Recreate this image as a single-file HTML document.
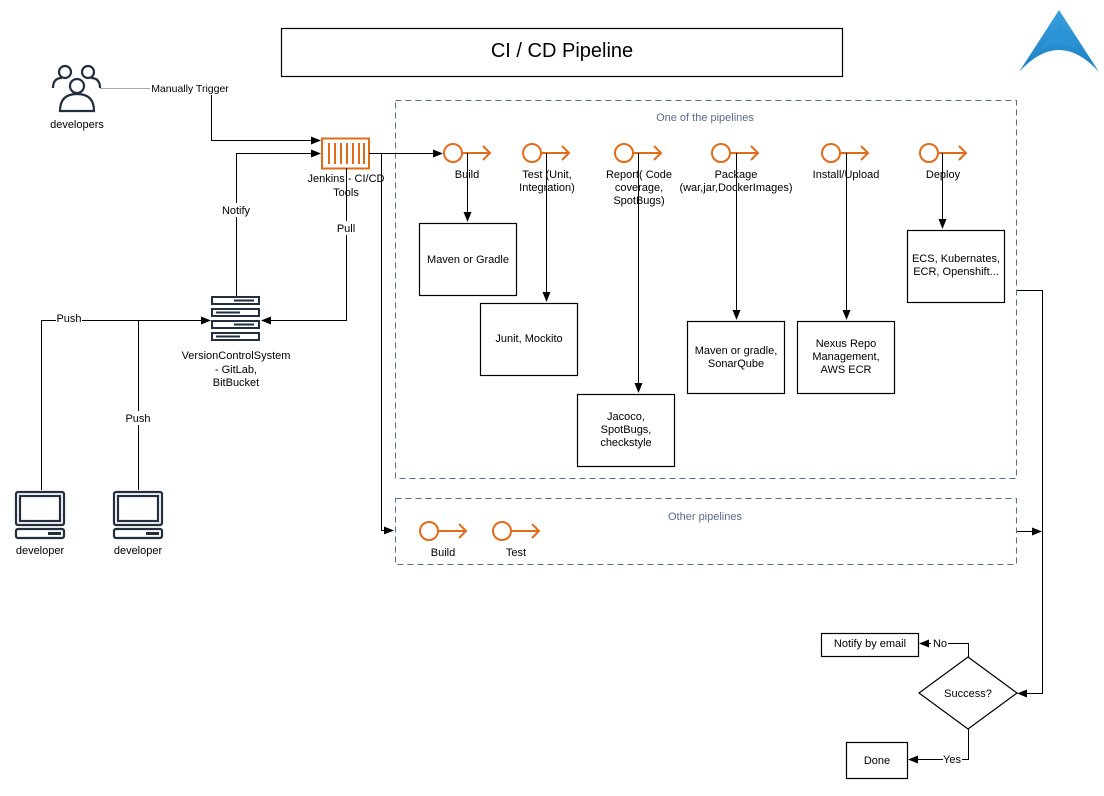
<!DOCTYPE html>
<html><head><meta charset="utf-8"><style>
html,body{margin:0;padding:0;background:#fff;}
svg{display:block;font-family:"Liberation Sans",sans-serif;}
</style></head><body>
<svg width="1104" height="796" viewBox="0 0 1104 796" xmlns="http://www.w3.org/2000/svg">
<defs>
<marker id="a" markerWidth="10" markerHeight="8" refX="9" refY="4" orient="auto" markerUnits="userSpaceOnUse"><path d="M0,0 L10,4 L0,8 Z" fill="#000"/></marker>
<linearGradient id="g" x1="0" y1="0" x2="0" y2="1"><stop offset="0" stop-color="#3aa0dc"/><stop offset="1" stop-color="#1b7fc4"/></linearGradient>
</defs>
<rect width="1104" height="796" fill="#fff"/>
<!-- title -->
<rect x="281.5" y="28.5" width="561" height="48" fill="#fff" stroke="#000" stroke-width="1.2"/>
<text x="562" y="57" font-size="20" text-anchor="middle">CI / CD Pipeline</text>
<!-- logo -->
<path d="M1059,10 L1099,72 Q1059,28 1019,72 Z" fill="url(#g)"/>
<path d="M1059,22 L1078,50 Q1059,38 1040,50 Z" fill="#2b94d6"/>
<!-- dashed boxes -->
<rect x="395.5" y="100.5" width="621" height="378" fill="none" stroke="#5a6e8f" stroke-dasharray="6,4"/>
<text x="705" y="121" font-size="11" fill="#5b6b8c" text-anchor="middle">One of the pipelines</text>
<rect x="395.5" y="498.5" width="621" height="66" fill="none" stroke="#5a6e8f" stroke-dasharray="6,4"/>
<text x="705" y="520" font-size="11" fill="#5b6b8c" text-anchor="middle">Other pipelines</text>
<!-- developers icon -->
<g fill="none" stroke="#232f3e" stroke-width="2.2">
<circle cx="65" cy="72" r="6"/><circle cx="88" cy="72" r="6"/>
<path d="M53,88 Q53,78 62,78"/><path d="M100,88 Q100,78 91,78"/>
<circle cx="77" cy="86" r="7"/>
<path d="M60,111 Q60,94 77,94 Q94,94 94,111 Z" fill="#fff"/>
</g>
<text x="77" y="128" font-size="11" text-anchor="middle">developers</text>
<!-- Manually trigger -->
<line x1="100" y1="88.5" x2="150" y2="88.5" stroke="#aaa"/>
<text x="190" y="92" font-size="10.5" text-anchor="middle">Manually Trigger</text>
<polyline points="211.5,95 211.5,140.5 320,140.5" fill="none" stroke="#000" marker-end="url(#a)"/>
<!-- Jenkins -->
<rect x="322" y="138.5" width="47" height="30" fill="#fff" stroke="#e06c1a" stroke-width="2"/>
<g stroke="#e06c1a" stroke-width="2"><line x1="329" y1="143" x2="329" y2="164"/><line x1="335" y1="143" x2="335" y2="164"/><line x1="341" y1="143" x2="341" y2="164"/><line x1="347" y1="143" x2="347" y2="164"/><line x1="353" y1="143" x2="353" y2="164"/><line x1="359" y1="143" x2="359" y2="164"/><line x1="364" y1="143" x2="364" y2="164"/></g>
<!-- Notify -->
<polyline points="236.5,297 236.5,153.5 320,153.5" fill="none" stroke="#000" marker-end="url(#a)"/>
<rect x="218" y="203" width="36" height="14" fill="#fff"/>
<text x="236" y="214" font-size="11" text-anchor="middle">Notify</text>
<!-- Pull -->
<polyline points="346.5,168 346.5,320.5 262,320.5" fill="none" stroke="#000" marker-end="url(#a)"/>
<rect x="330" y="221" width="32" height="14" fill="#fff"/>
<text x="346" y="232" font-size="11" text-anchor="middle">Pull</text>
<text x="346" y="182" font-size="11" text-anchor="middle">Jenkins - CI/CD</text>
<text x="346" y="196" font-size="11" text-anchor="middle">Tools</text>
<!-- VCS -->
<g fill="#fff" stroke="#232f3e" stroke-width="2">
<rect x="212" y="297" width="47" height="7"/><rect x="212" y="309" width="47" height="7"/><rect x="212" y="321" width="47" height="7"/><rect x="212" y="333" width="47" height="7"/>
</g>
<g stroke="#232f3e" stroke-width="2"><line x1="234" y1="300.5" x2="254" y2="300.5"/><line x1="216" y1="312.5" x2="240" y2="312.5"/><line x1="234" y1="324.5" x2="254" y2="324.5"/><line x1="216" y1="336.5" x2="240" y2="336.5"/></g>
<text x="236" y="359" font-size="11" text-anchor="middle">VersionControlSystem</text>
<text x="236" y="373" font-size="11" text-anchor="middle">- GitLab,</text>
<text x="236" y="386" font-size="11" text-anchor="middle">BitBucket</text>
<!-- Push -->
<polyline points="41.5,490 41.5,320.5 210,320.5" fill="none" stroke="#000" marker-end="url(#a)"/>
<line x1="138.5" y1="490" x2="138.5" y2="320" stroke="#000"/>
<rect x="56" y="312" width="26" height="12" fill="#fff"/>
<text x="69" y="322" font-size="11" text-anchor="middle">Push</text>
<rect x="124" y="411" width="28" height="14" fill="#fff"/>
<text x="138" y="422" font-size="11" text-anchor="middle">Push</text>
<!-- laptops -->
<g fill="none" stroke="#232f3e" stroke-width="2.2">
<rect x="16" y="492" width="48" height="33" rx="2"/><rect x="20" y="496" width="40" height="25"/><rect x="16" y="529" width="48" height="9" rx="2"/>
<rect x="114" y="492" width="48" height="33" rx="2"/><rect x="118" y="496" width="40" height="25"/><rect x="114" y="529" width="48" height="9" rx="2"/>
</g>
<rect x="48" y="532" width="13" height="3" fill="#232f3e"/><rect x="146" y="532" width="13" height="3" fill="#232f3e"/>
<text x="40" y="554" font-size="11" text-anchor="middle">developer</text>
<text x="138" y="554" font-size="11" text-anchor="middle">developer</text>
<!-- jenkins to build -->
<line x1="369" y1="153.5" x2="442" y2="153.5" stroke="#000" marker-end="url(#a)"/>
<polyline points="381.5,153.5 381.5,530.5 393,530.5" fill="none" stroke="#000" marker-end="url(#a)"/>
<!-- stages -->
<g fill="none" stroke="#e06c1a" stroke-width="2">
<circle cx="453" cy="153" r="9"/><line x1="462" y1="153" x2="490" y2="153"/><polyline points="483,146 490,153 483,160"/>
<circle cx="532" cy="153" r="9"/><line x1="541" y1="153" x2="569" y2="153"/><polyline points="562,146 569,153 562,160"/>
<circle cx="624" cy="153" r="9"/><line x1="633" y1="153" x2="661" y2="153"/><polyline points="654,146 661,153 654,160"/>
<circle cx="721" cy="153" r="9"/><line x1="730" y1="153" x2="758" y2="153"/><polyline points="751,146 758,153 751,160"/>
<circle cx="831" cy="153" r="9"/><line x1="840" y1="153" x2="868" y2="153"/><polyline points="861,146 868,153 861,160"/>
<circle cx="929" cy="153" r="9"/><line x1="938" y1="153" x2="966" y2="153"/><polyline points="959,146 966,153 959,160"/>
<circle cx="429" cy="531" r="9"/><line x1="438" y1="531" x2="466" y2="531"/><polyline points="459,524 466,531 459,538"/>
<circle cx="502" cy="531" r="9"/><line x1="511" y1="531" x2="539" y2="531"/><polyline points="532,524 539,531 532,538"/>
</g>
<g stroke="#000" fill="none">
<line x1="467.5" y1="153" x2="467.5" y2="221" marker-end="url(#a)"/>
<line x1="546.5" y1="153" x2="546.5" y2="301" marker-end="url(#a)"/>
<line x1="638.5" y1="153" x2="638.5" y2="392" marker-end="url(#a)"/>
<line x1="736.5" y1="153" x2="736.5" y2="319" marker-end="url(#a)"/>
<line x1="846.5" y1="153" x2="846.5" y2="319" marker-end="url(#a)"/>
<line x1="942.5" y1="153" x2="942.5" y2="228" marker-end="url(#a)"/>
</g>
<g font-size="11" text-anchor="middle">
<text x="467" y="178">Build</text>
<text x="547" y="178">Test (Unit,</text><text x="547" y="191">Integration)</text>
<text x="639" y="178">Report( Code</text><text x="639" y="191">coverage,</text><text x="639" y="204">SpotBugs)</text>
<text x="736" y="178">Package</text><text x="736" y="191">(war,jar,DockerImages)</text>
<text x="846" y="178">Install/Upload</text>
<text x="943" y="178">Deploy</text>
<text x="443" y="556">Build</text>
<text x="516" y="556">Test</text>
</g>
<!-- boxes -->
<g fill="#fff" stroke="#000" stroke-width="1.2">
<rect x="419.5" y="223.5" width="97" height="72"/>
<rect x="480.5" y="303.5" width="97" height="72"/>
<rect x="577.5" y="394.5" width="97" height="72"/>
<rect x="687.5" y="321.5" width="97" height="72"/>
<rect x="797.5" y="321.5" width="97" height="72"/>
<rect x="907.5" y="230.5" width="97" height="72"/>
<rect x="821.5" y="633.5" width="97" height="23"/>
<rect x="846.5" y="742.5" width="61" height="36"/>
<polygon points="968,657 1017,693 968,729 919,693"/>
</g>
<g font-size="11" text-anchor="middle">
<text x="468" y="263">Maven or Gradle</text>
<text x="529" y="342">Junit, Mockito</text>
<text x="626" y="420">Jacoco,</text><text x="626" y="433">SpotBugs,</text><text x="626" y="446">checkstyle</text>
<text x="736" y="354">Maven or gradle,</text><text x="736" y="367">SonarQube</text>
<text x="846" y="347">Nexus Repo</text><text x="846" y="360">Management,</text><text x="846" y="373">AWS ECR</text>
<text x="956" y="262">ECS, Kubernates,</text><text x="956" y="275">ECR, Openshift...</text>
<text x="870" y="647">Notify by email</text>
<text x="877" y="764">Done</text>
<text x="968" y="697">Success?</text>
</g>
<!-- right connectors -->
<polyline points="1017,290.5 1042.5,290.5 1042.5,693.5 1018,693.5" fill="none" stroke="#000" marker-end="url(#a)"/>
<line x1="1017" y1="531.5" x2="1041" y2="531.5" stroke="#000" marker-end="url(#a)"/>
<polyline points="968.5,657 968.5,643.5 920,643.5" fill="none" stroke="#000" marker-end="url(#a)"/>
<rect x="931" y="637" width="17" height="12" fill="#fff"/>
<text x="940" y="647" font-size="11" text-anchor="middle">No</text>
<polyline points="968.5,729 968.5,759.5 909,759.5" fill="none" stroke="#000" marker-end="url(#a)"/>
<rect x="943" y="753" width="19" height="12" fill="#fff"/>
<text x="952" y="763" font-size="11" text-anchor="middle">Yes</text>
</svg>
</body></html>
